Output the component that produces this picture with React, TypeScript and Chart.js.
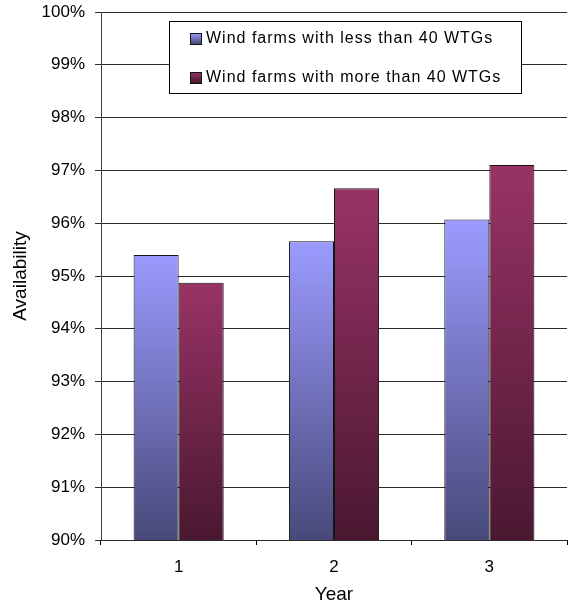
import React, { useEffect, useRef } from "react";
import { Chart, registerables } from "chart.js";

Chart.register(...registerables);

// Availability per year, split by wind farm size
const years = ["1", "2", "3"];
const lessThan40 = [95.4, 95.66, 96.07];
const moreThan40 = [94.87, 96.66, 97.1];
const seriesLabels = [
  "Wind farms with less than 40 WTGs",
  "Wind farms with more than 40 WTGs",
];
const yMin = 90;
const yMax = 100;

const FONT = '"Liberation Sans", Arial, sans-serif';

// top / bottom shades of each series' vertical gradient
const shades = [
  { top: "#9b9bff", bottom: "#48497a" },
  { top: "#993366", bottom: "#4a1830" },
];

function barGradient(idx: number) {
  return (ctx: any) => {
    const chart = ctx.chart;
    const s = shades[idx];
    const yScale = chart.scales?.y;
    if (!chart.chartArea || !yScale || typeof ctx.raw !== "number") return s.top;
    const yTop = yScale.getPixelForValue(ctx.raw);
    const yBot = yScale.getPixelForValue(yMin);
    const g = chart.ctx.createLinearGradient(0, yTop, 0, yBot);
    g.addColorStop(0, s.top);
    g.addColorStop(1, s.bottom);
    return g;
  };
}

// Boxed legend drawn inside the plot, top right
const boxLegend = {
  id: "boxLegend",
  afterDatasetsDraw(chart: any) {
    const { ctx } = chart;
    const x = 169.5;
    const y = 21.5;
    const w = 352;
    const h = 72;
    ctx.save();
    ctx.fillStyle = "#ffffff";
    ctx.fillRect(x, y, w, h);
    ctx.strokeStyle = "#000000";
    ctx.lineWidth = 1;
    ctx.strokeRect(x, y, w, h);
    const rows = [38, 77];
    chart.data.datasets.forEach((ds: any, i: number) => {
      const cy = rows[i];
      const s = shades[i];
      const g = ctx.createLinearGradient(0, cy - 5, 0, cy + 6);
      g.addColorStop(0, s.top);
      g.addColorStop(1, s.bottom);
      ctx.fillStyle = g;
      ctx.fillRect(190.5, cy - 4.5, 11, 11);
      ctx.strokeStyle = "#111";
      ctx.strokeRect(190.5, cy - 4.5, 11, 11);
      ctx.fillStyle = "#000";
      ctx.font = `16px ${FONT}`;
      ctx.textBaseline = "middle";
      ctx.textAlign = "left";
      (ctx as any).letterSpacing = "1px";
      ctx.fillText(ds.label, 206, cy + 1);
    });
    ctx.restore();
  },
};

export default function App() {
  const ref = useRef<HTMLCanvasElement | null>(null);

  useEffect(() => {
    if (!ref.current) return;
    Chart.defaults.font.family = FONT;
    Chart.defaults.color = "#000";
    const chart = new Chart(ref.current, {
      type: "bar",
      data: {
        labels: years,
        datasets: [
          {
            label: seriesLabels[0],
            data: lessThan40,
            backgroundColor: barGradient(0),
            borderColor: "#141414",
            borderWidth: 1,
          },
          {
            label: seriesLabels[1],
            data: moreThan40,
            backgroundColor: barGradient(1),
            borderColor: "#141414",
            borderWidth: 1,
          },
        ],
      },
      options: {
        responsive: false,
        animation: false,
        events: [],
        layout: { padding: { left: 0, top: 12, right: 1, bottom: 0 } },
        plugins: {
          legend: { display: false },
          tooltip: { enabled: false },
        },
        datasets: {
          bar: { categoryPercentage: 0.58, barPercentage: 1 },
        },
        scales: {
          x: {
            type: "category",
            offset: true,
            grid: {
              offset: true,
              drawOnChartArea: false,
              tickLength: 5,
              color: "#000",
            },
            border: { display: true, color: "#2a2a2a" },
            ticks: { font: { size: 17 }, padding: 12, color: "#000" },
            title: {
              display: true,
              text: "Year",
              font: { size: 19 },
              padding: { top: 0, bottom: 1 },
            },
            afterFit(scale: any) {
              scale.height = 67;
              scale.paddingLeft = 0;
              scale.paddingRight = 0;
            },
          },
          y: {
            min: yMin,
            max: yMax,
            ticks: {
              stepSize: 1,
              font: { size: 17 },
              padding: 10,
              color: "#000",
              callback: (v: any) => `${v}%`,
            },
            grid: { color: "#2a2a2a", tickLength: 6 },
            border: { display: true, color: "#404040" },
            title: {
              display: true,
              text: "Availability",
              font: { size: 19 },
              padding: { top: 9, bottom: 0 },
            },
            afterFit(scale: any) {
              scale.width = 101;
              scale.paddingTop = 0;
              scale.paddingBottom = 0;
            },
          },
        },
      },
      plugins: [boxLegend],
    });
    return () => chart.destroy();
  }, []);

  return (
    <div style={{ position: "fixed", left: 0, top: 0, width: 568, height: 607, background: "#fff" }}>
      <canvas ref={ref} width={568} height={607} />
    </div>
  );
}
